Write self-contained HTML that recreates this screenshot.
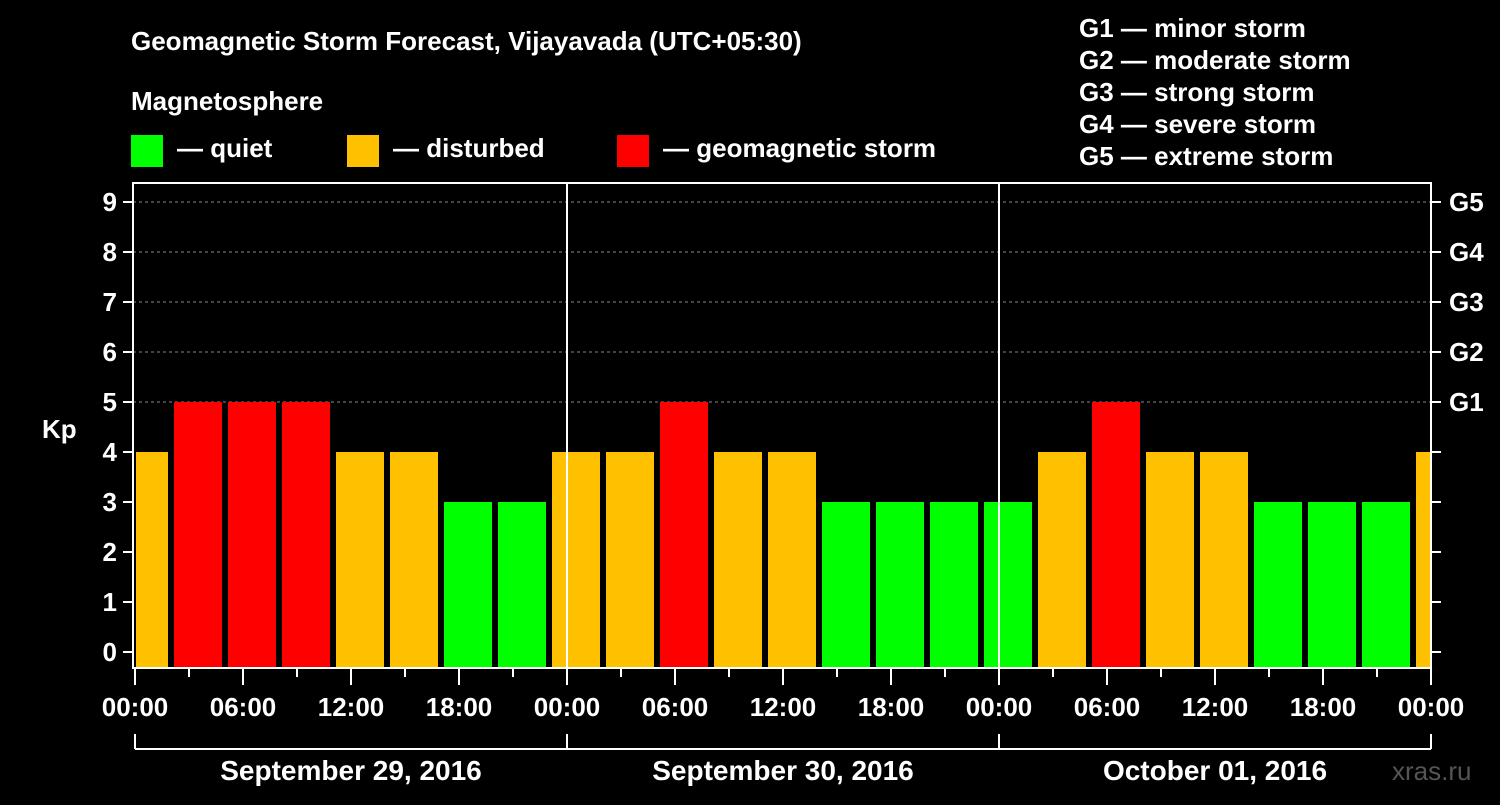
<!DOCTYPE html>
<html><head><meta charset="utf-8"><style>
body{margin:0;background:#000;}
svg text{font-family:"Liberation Sans",Arial,sans-serif;font-weight:bold;fill:#fff;}
</style></head><body>
<svg id="chart" width="1500" height="800" xmlns="http://www.w3.org/2000/svg">
<rect width="1500" height="800" fill="#000"/>
<text x="131" y="50" font-size="26">Geomagnetic Storm Forecast, Vijayavada (UTC+05:30)</text>
<text x="131" y="110" font-size="26">Magnetosphere</text>
<g><rect x="131" y="135" width="32" height="32" fill="#00ff00"/><text x="177" y="157" font-size="26">— quiet</text></g>
<g><rect x="347" y="135" width="32" height="32" fill="#ffc000"/><text x="393" y="157" font-size="26">— disturbed</text></g>
<g><rect x="617" y="135" width="32" height="32" fill="#ff0000"/><text x="663" y="157" font-size="26">— geomagnetic storm</text></g>
<g font-size="26">
<text x="1079" y="37">G1 — minor storm</text>
<text x="1079" y="69">G2 — moderate storm</text>
<text x="1079" y="101">G3 — strong storm</text>
<text x="1079" y="133">G4 — severe storm</text>
<text x="1079" y="165">G5 — extreme storm</text>
</g>
<text x="42" y="438" font-size="26">Kp</text>
<text x="1392" y="780" font-size="26" fill="#555" style="fill:#555;font-weight:normal">xras.ru</text>
<g id="grid"></g><g id="bars"></g><g id="axes"></g>
</svg>
<script>
const kpValues=[4,5,5,5,4,4,3,3,4,4,5,4,4,3,3,3,3,4,5,4,4,3,3,3,4];
const slotStartHours=-1; // first 3h slot starts 1h before midnight (local)
const yTicks=[0,1,2,3,4,5,6,7,8,9];
const gLabels=["G1","G2","G3","G4","G5"];
const gLevels=[5,6,7,8,9];
const xTickLabels=["00:00","06:00","12:00","18:00","00:00","06:00","12:00","18:00","00:00","06:00","12:00","18:00","00:00"];
const dayLabels=["September 29, 2016","September 30, 2016","October 01, 2016"];
const NS="http://www.w3.org/2000/svg";
const L=133,R=1431,T=183,B=668;
const x=h=>135+h*18;
const y=v=>652-v*50;
function mk(tag,attrs,parent){const e=document.createElementNS(NS,tag);for(const k in attrs)e.setAttribute(k,attrs[k]);parent.appendChild(e);return e;}
const grid=document.getElementById('grid'),bars=document.getElementById('bars'),axes=document.getElementById('axes');
gLevels.forEach(v=>{const l=mk('line',{x1:L,x2:R,y1:y(v),y2:y(v),stroke:'#888','stroke-dasharray':'3,3','stroke-width':1},grid);

});
kpValues.forEach((v,i)=>{const s=x(slotStartHours+3*i);let x0=Math.max(s+3,L+3),x1=Math.min(s+51,R-1);
const c=v>=5?'#ff0000':v>=4?'#ffc000':'#00ff00';
const r=mk('rect',{x:x0,y:y(v),width:x1-x0,height:B-y(v),fill:c},bars);

});
for(let d=1;d<3;d++){const l=mk('line',{x1:x(24*d),x2:x(24*d),y1:T,y2:B,stroke:'#fff','stroke-width':2},axes);

}
const frame=mk('rect',{x:L,y:T,width:R-L,height:B-T,fill:'none',stroke:'#fff','stroke-width':2},axes);


yTicks.forEach(v=>{mk('line',{x1:L-10,x2:L,y1:y(v),y2:y(v),stroke:'#fff','stroke-width':2},axes);
mk('line',{x1:R,x2:R+10,y1:y(v),y2:y(v),stroke:'#fff','stroke-width':2},axes);
const t=mk('text',{x:L-16,y:y(v)+9,'font-size':26,'text-anchor':'end'},axes);t.textContent=v;

});
gLevels.forEach((v,i)=>{const t=mk('text',{x:R+18,y:y(v)+9,'font-size':26},axes);t.textContent=gLabels[i];

});
for(let h=0;h<=72;h+=3){const long=h%6===0;mk('line',{x1:x(h),x2:x(h),y1:B,y2:B+(long?17:9),stroke:'#fff','stroke-width':2},axes);}
xTickLabels.forEach((s,i)=>{const t=mk('text',{x:x(i*6),y:716,'font-size':26,'text-anchor':'middle'},axes);t.textContent=s;

});
mk('line',{x1:x(0),x2:x(72),y1:749,y2:749,stroke:'#fff','stroke-width':2},axes);
for(let d=0;d<=3;d++)mk('line',{x1:x(24*d),x2:x(24*d),y1:734,y2:749,stroke:'#fff','stroke-width':2},axes);
dayLabels.forEach((s,i)=>{const t=mk('text',{x:x(24*i+12),y:780,'font-size':28,'text-anchor':'middle'},axes);t.textContent=s;

});
</script>
</body></html>
